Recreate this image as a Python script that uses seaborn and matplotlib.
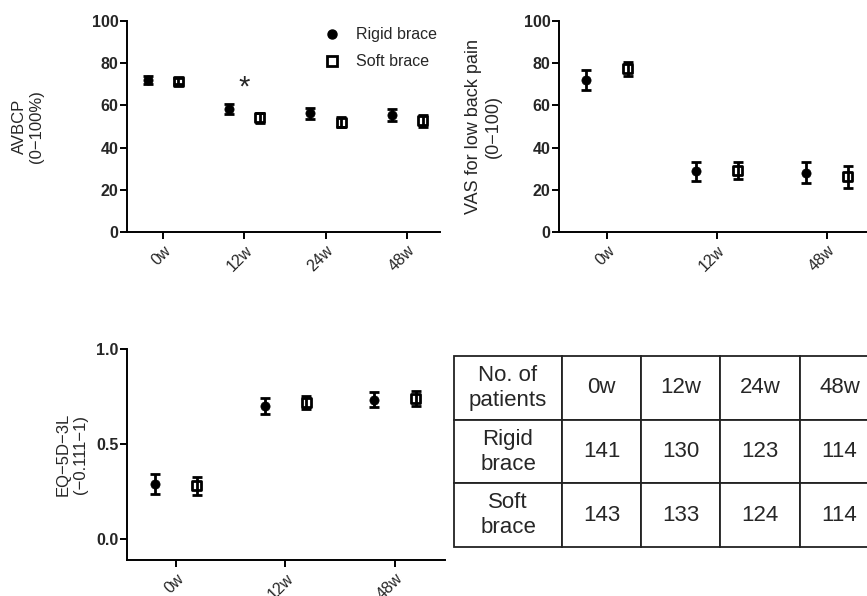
import matplotlib
matplotlib.use("Agg")
import matplotlib.pyplot as plt
from matplotlib.lines import Line2D
import seaborn as sns
import numpy as np
import pandas as pd

# ---------------- data ----------------
groups = ["Rigid brace", "Soft brace"]

avbcp_weeks = ["0w", "12w", "24w", "48w"]
avbcp_rigid = [72.0, 58.3, 56.2, 55.5]
avbcp_rigid_err = [1.9, 2.6, 2.8, 2.7]
avbcp_soft = [71.4, 54.2, 52.1, 52.8]
avbcp_soft_err = [1.4, 2.4, 2.4, 2.8]

vas_weeks = ["0w", "12w", "48w"]
vas_rigid = [72.0, 28.8, 28.1]
vas_rigid_err = [4.9, 4.5, 5.0]
vas_soft = [77.3, 29.1, 26.2]
vas_soft_err = [3.5, 4.0, 5.2]

eq_weeks = ["0w", "12w", "48w"]
eq_rigid = [0.29, 0.70, 0.733]
eq_rigid_err = [0.053, 0.04, 0.04]
eq_soft = [0.28, 0.72, 0.74]
eq_soft_err = [0.047, 0.035, 0.04]

table_header = ["No. of\npatients", "0w", "12w", "24w", "48w"]
table_rigid = [141, 130, 123, 114]
table_soft = [143, 133, 124, 114]

# ---------------- style ----------------
sns.set_theme(style="ticks")
plt.rcParams["font.family"] = ["Liberation Sans", "DejaVu Sans"]
plt.rcParams["axes.linewidth"] = 1.4

W, H = 867, 596
fig = plt.figure(figsize=(W / 100, H / 100), dpi=100)


def px_axes(left, right, top, bottom):
    return fig.add_axes([left / W, 1 - bottom / H, (right - left) / W, (bottom - top) / H])


OFF = 0.19


def draw_panel(ax, weeks, rigid, rigid_err, soft, soft_err):
    idx = np.arange(len(weeks))
    df = pd.DataFrame({
        "x": np.concatenate([idx - OFF, idx + OFF]),
        "y": rigid + soft,
        "err": rigid_err + soft_err,
        "group": [groups[0]] * len(weeks) + [groups[1]] * len(weeks),
    })
    ax.errorbar(df["x"], df["y"], yerr=df["err"], fmt="none", ecolor="black",
                elinewidth=2.0, capsize=3.4, capthick=2.0, zorder=2)
    r = df[df.group == groups[0]]
    s = df[df.group == groups[1]]
    sns.scatterplot(x=r["x"], y=r["y"], marker="o", color="black", s=44,
                    edgecolor="black", linewidth=0.5, ax=ax, zorder=3)
    sns.scatterplot(x=s["x"], y=s["y"], marker="s", facecolor="none", s=42,
                    edgecolor="black", linewidth=2.0, ax=ax, zorder=3)
    ax.set_xticks(idx)
    ax.set_xticklabels(weeks, rotation=45, ha="right", va="top",
                       rotation_mode="anchor")
    ax.set_xlabel("")
    sns.despine(ax=ax)
    ax.tick_params(axis="both", length=5, width=1.4, color="black")
    ax.tick_params(axis="y", labelsize=11.5, pad=1)
    ax.tick_params(axis="x", labelsize=11.5, pad=3)
    for sp in ax.spines.values():
        sp.set_color("black")


def bold_y(ax):
    for lab in ax.get_yticklabels():
        lab.set_fontweight("bold")


# Panel 1: AVBCP
ax1 = px_axes(127, 440, 21, 232)
draw_panel(ax1, avbcp_weeks, avbcp_rigid, avbcp_rigid_err, avbcp_soft, avbcp_soft_err)
ax1.set_xlim(-0.442, 3.40)
ax1.set_ylim(0, 100)
ax1.set_yticks([0, 20, 40, 60, 80, 100])
bold_y(ax1)
ax1.set_ylabel("AVBCP\n(0\u2212100%)", fontsize=12, ha="center", va="center")
ax1.yaxis.set_label_coords(-0.317, 0.5)
ax1.text(1, 68.5, "*", ha="center", va="center", fontsize=21)
handles = [
    Line2D([], [], marker="o", color="black", ls="none", markersize=6.5),
    Line2D([], [], marker="s", color="black", mfc="none", mew=2.0, ls="none", markersize=6.5),
]
ax1.legend(handles, groups, loc="upper right", bbox_to_anchor=(0.99, 0.97),
           frameon=False, fontsize=11.5, handlelength=1.0, handletextpad=1.0,
           labelspacing=0.75, borderpad=0, borderaxespad=0)

# Panel 2: VAS
ax2 = px_axes(559, 867, 21, 232)
draw_panel(ax2, vas_weeks, vas_rigid, vas_rigid_err, vas_soft, vas_soft_err)
ax2.set_xlim(-0.436, 2.364)
ax2.set_ylim(0, 100)
ax2.set_yticks([0, 20, 40, 60, 80, 100])
bold_y(ax2)
ax2.set_ylabel("VAS for low back pain\n(0\u2212100)", fontsize=13, ha="center", va="center")
ax2.yaxis.set_label_coords(-0.245, 0.5)

# Panel 3: EQ-5D-3L
ax3 = px_axes(127, 445, 349, 560)
draw_panel(ax3, eq_weeks, eq_rigid, eq_rigid_err, eq_soft, eq_soft_err)
ax3.set_xlim(-0.447, 2.457)
ax3.set_ylim(-0.11, 1.0)
ax3.set_yticks([0.0, 0.5, 1.0])
ax3.set_yticklabels(["0.0", "0.5", "1.0"])
bold_y(ax3)
ax3.set_ylabel("EQ\u22125D\u22123L\n(\u22120.111\u22121)", fontsize=12, ha="center", va="center")
ax3.yaxis.set_label_coords(-0.173, 0.5)

# Table
axt = px_axes(454, 879, 356, 547)
axt.axis("off")
cells = [table_header,
         ["Rigid\nbrace"] + [str(v) for v in table_rigid],
         ["Soft\nbrace"] + [str(v) for v in table_soft]]
widths = np.array([108, 79, 79, 80, 79], dtype=float)
tbl = axt.table(cellText=cells, cellLoc="center", bbox=[0, 0, 1, 1],
                colWidths=list(widths / widths.sum()))
tbl.auto_set_font_size(False)
tbl.set_fontsize(16)
for (r, c), cell in tbl.get_celld().items():
    cell.set_edgecolor("#222222")
    cell.set_linewidth(1.3)
    cell.get_text().set_linespacing(1.25)

fig.savefig("out.png", dpi=100)
